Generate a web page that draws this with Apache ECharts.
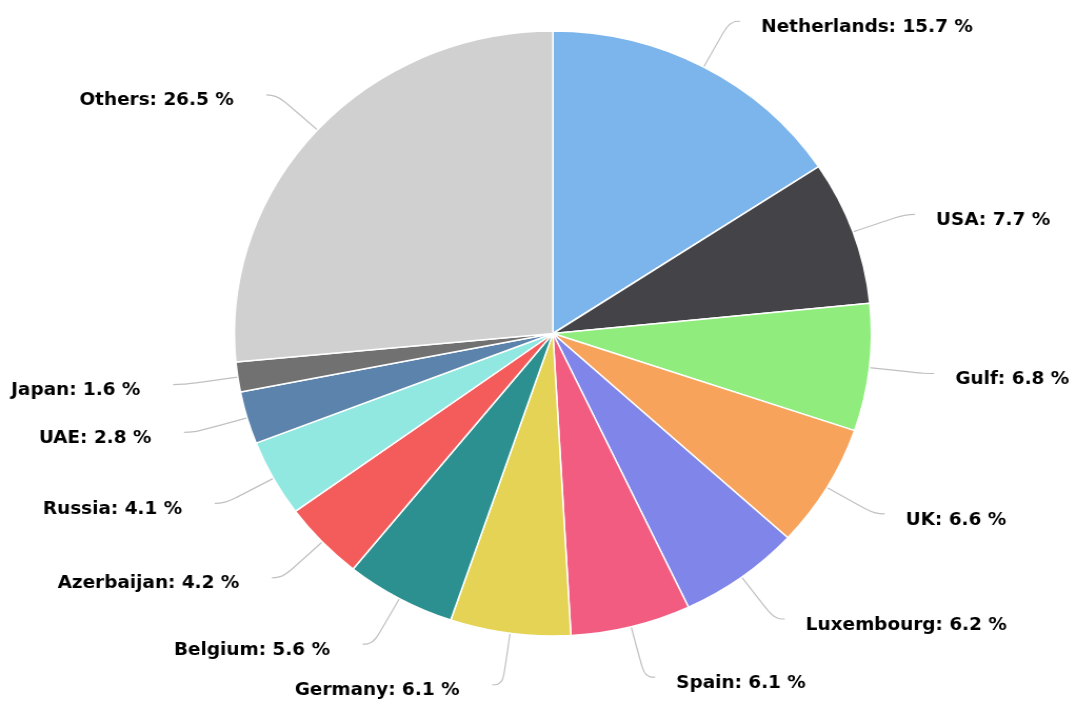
<!DOCTYPE html>
<html><head><meta charset="utf-8">
<script src="https://cdn.jsdelivr.net/npm/echarts@6/dist/echarts.min.js"></script>
<style>
html,body{margin:0;padding:0;background:#fff;overflow:hidden;width:1077px;height:703px}
#c{width:1100px;height:703px;transform:scaleX(1.0528);transform-origin:0 0}
</style>
</head><body><div id="c"></div>
<script>
var categories = ['Netherlands','USA','Gulf','UK','Luxembourg','Spain','Germany','Belgium','Azerbaijan','Russia','UAE','Japan','Others'];
var values = [15.7,7.7,6.8,6.6,6.2,6.1,6.1,5.6,4.2,4.1,2.8,1.6,26.5];
var colors = ['#7cb5ec','#434348','#90ed7d','#f7a35c','#8085e9','#f15c80','#e4d354','#2b908f','#f45b5b','#91e8e1','#5c83ab','#717171','#d0d0d0'];

var CX = 525.2, CY = 333.5, R = 302.5;
var chart = echarts.init(document.getElementById('c'), null, {renderer:'canvas'});
chart.setOption({
  animation:false,
  color: colors,
  series:[{
    type:'pie',
    center:[CX,CY],
    radius:[0,R],
    startAngle:90,
    clockwise:true,
    avoidLabelOverlap:true,
    itemStyle:{borderColor:'#ffffff',borderWidth:1.5},
    label:{
      show:true,
      overflow:'none',
      formatter:function(p){return p.name+': '+p.value.toFixed(1)+' %';},
      fontFamily:'DejaVu Sans',
      fontWeight:'bold',
      fontSize:17.5,
      color:'#000000',
      distanceToLabelLine:19
    },
    labelLine:{
      show:true,
      length:52,
      length2:10,
      smooth:0.5,
      lineStyle:{color:'#c0c0c0',width:1.2}
    },
    labelLayout:function(p){
      var left = (p.labelRect.x + p.labelRect.width/2) < CX;
      return {dx: left ? -12 : 1, dy: 6};
    },
    data: categories.map(function(n,i){return {name:n,value:values[i]};})
  }]
});
</script></body></html>
